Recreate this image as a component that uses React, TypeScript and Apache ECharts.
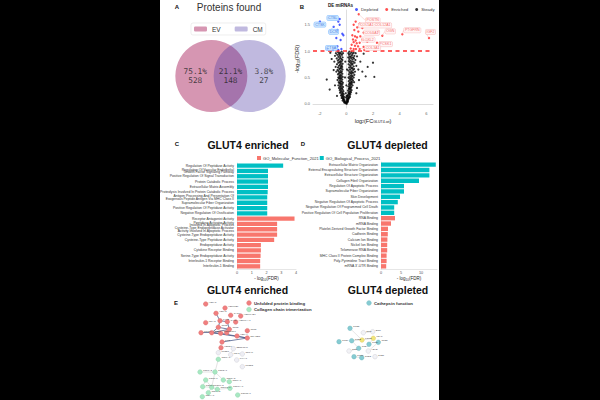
import React, { useEffect, useRef } from 'react';
import * as echarts from 'echarts';

// ---------- Panel A: Venn ----------
const vennSets = ['EV', 'CM'];
const vennCenterX = [-1, 1];
const vennRegionX = [-1.84, 0, 1.74];
const vennPct = ['75.1%', '21.1%', '3.8%'];
const vennCount = [528, 148, 27];

// ---------- Panel B: volcano (log2FC, -log10 FDR) ----------
const steadyPts: number[][] = [
  [-0.62,0.98],[-0.48,0.97],[-0.35,0.99],[-0.78,0.96],[-0.25,0.96],[-0.55,0.95],[-0.41,0.95],
  [-0.68,0.93],[-0.52,0.92],[-0.33,0.93],[-0.44,0.9],[-0.85,0.91],[-0.6,0.89],[-0.28,0.88],[-0.47,0.87],
  [-0.72,0.86],[-0.38,0.85],[-0.56,0.84],[-0.3,0.83],[-0.64,0.82],[-0.45,0.81],[-0.9,0.8],[-0.51,0.79],[-0.36,0.8],
  [-0.6,0.78],[-0.42,0.77],[-0.28,0.76],[-0.7,0.75],[-0.48,0.74],[-0.35,0.73],[-0.55,0.72],[-0.4,0.71],[-0.8,0.7],[-0.31,0.7],
  [-0.62,0.69],[-0.45,0.68],[-0.37,0.67],[-0.52,0.66],[-0.29,0.65],[-0.66,0.64],[-0.43,0.63],[-0.58,0.62],[-0.34,0.61],[-0.48,0.6],[-0.75,0.61],
  [-0.4,0.59],[-0.55,0.58],[-0.3,0.57],[-0.63,0.56],[-0.46,0.55],[-0.36,0.54],[-0.52,0.53],[-0.42,0.52],[-0.27,0.51],[-0.6,0.5],[-0.49,0.5],
  [-0.38,0.49],[-0.55,0.48],[-0.44,0.47],[-0.31,0.46],[-0.66,0.45],[-0.5,0.44],[-0.4,0.43],[-0.34,0.42],[-0.57,0.41],[-0.46,0.4],[-0.26,0.4],
  [-0.52,0.39],[-0.39,0.38],[-0.3,0.37],[-0.45,0.36],[-0.6,0.35],[-0.35,0.34],[-0.48,0.33],[-0.25,0.32],[-0.41,0.31],[-0.55,0.3],
  [-0.33,0.29],[-0.44,0.28],[-0.28,0.27],[-0.5,0.26],[-0.38,0.25],[-0.22,0.24],[-0.42,0.23],[-0.31,0.22],[-0.47,0.21],[-0.26,0.2],
  [-0.36,0.19],[-0.2,0.18],[-0.3,0.17],[-0.4,0.16],[-0.24,0.15],[-0.33,0.14],[-0.17,0.13],[-0.27,0.12],[-0.35,0.11],[-0.21,0.1],
  [-0.25,0.09],[-0.15,0.08],[-0.2,0.07],[-0.28,0.06],[-0.12,0.05],[-0.18,0.04],[-0.08,0.03],[-0.14,0.02],[-0.05,0.01],
  [0.22,0.99],[0.38,0.98],[0.55,0.97],[0.15,0.96],[0.47,0.95],[0.7,0.96],[0.3,0.95],
  [0.2,0.93],[0.42,0.92],[0.6,0.91],[0.33,0.9],[0.8,0.9],[0.25,0.89],[0.5,0.88],[0.14,0.88],
  [0.36,0.87],[0.57,0.86],[0.22,0.85],[0.45,0.84],[0.68,0.83],[0.3,0.82],[0.18,0.81],[0.52,0.8],[0.4,0.8],
  [0.25,0.79],[0.62,0.78],[0.35,0.77],[0.48,0.76],[0.17,0.75],[0.42,0.74],[0.28,0.73],[0.75,0.72],[0.55,0.71],[0.33,0.7],
  [0.21,0.69],[0.45,0.68],[0.38,0.67],[0.58,0.66],[0.27,0.65],[0.5,0.64],[0.15,0.63],[0.36,0.62],[0.65,0.61],[0.43,0.6],[0.24,0.6],
  [0.52,0.59],[0.31,0.58],[0.4,0.57],[0.19,0.56],[0.6,0.55],[0.35,0.54],[0.47,0.53],[0.26,0.52],[0.41,0.51],[0.16,0.5],[0.55,0.5],
  [0.33,0.49],[0.22,0.48],[0.45,0.47],[0.38,0.46],[0.28,0.45],[0.5,0.44],[0.18,0.43],[0.36,0.42],[0.42,0.41],[0.25,0.4],[0.58,0.41],
  [0.3,0.39],[0.4,0.38],[0.2,0.37],[0.34,0.36],[0.47,0.35],[0.26,0.34],[0.15,0.33],[0.38,0.32],[0.29,0.31],[0.22,0.3],
  [0.33,0.29],[0.18,0.28],[0.27,0.27],[0.4,0.26],[0.12,0.25],[0.3,0.24],[0.22,0.23],[0.35,0.22],[0.16,0.21],[0.26,0.2],
  [0.2,0.19],[0.3,0.18],[0.12,0.17],[0.24,0.16],[0.08,0.15],[0.18,0.14],[0.27,0.13],[0.1,0.12],[0.2,0.11],[0.14,0.1],
  [0.05,0.09],[0.15,0.08],[0.1,0.07],[0.02,0.06],[0.12,0.05],[0.06,0.04],[0.0,0.02],[0.09,0.03],[0.03,0.0],
  [-0.05,0.2],[0.0,0.35],[-0.1,0.5],[0.05,0.65],[-0.08,0.8],[0.02,0.15],[-0.02,0.12],
  [2.0,0.78],[2.1,0.51],[-1.47,0.46],[-1.25,0.27],[1.45,0.52],[1.2,0.61],[1.05,0.8],[-0.95,0.64],
  [-1.1,0.85],[0.95,0.45],[-0.85,0.35],[0.8,0.3],[1.3,0.95],[-1.2,0.97],[0.75,0.2],[-0.7,0.15],[1.6,0.7],[0.9,0.65]
];
const depletedPts: number[][] = [
  [-1.98,1.56],[-0.5,1.61],[-0.6,1.56],[-0.5,1.5],[-0.95,1.46],[-0.67,1.4],[-0.3,1.33],[-0.22,1.3],
  [-0.75,1.25],[-0.43,1.21],[-0.67,1.09],[-0.37,1.04],[-1.42,1.04],[-0.6,1.02],[-1.0,1.02]
];
const enrichedPts: number[][] = [
  [0.93,1.7],[0.7,1.56],[1.0,1.52],[0.55,1.5],[0.82,1.45],[1.2,1.44],[0.6,1.4],[0.9,1.37],[1.3,1.35],
  [0.45,1.3],[0.65,1.28],[0.8,1.26],[1.05,1.28],[0.5,1.22],[0.7,1.2],[1.2,1.22],[0.55,1.17],[0.78,1.15],
  [1.0,1.16],[1.57,1.18],[0.4,1.12],[0.65,1.1],[0.88,1.09],[1.3,1.08],[0.33,1.05],[0.55,1.04],[0.72,1.04],
  [1.0,1.04],[1.35,1.02],[2.3,1.16],[2.7,1.29],[1.95,1.35],[2.4,1.37],[4.2,1.32],[6.2,1.25]
];
const depLabelNames = ['CTSL', 'CTSK', 'DCN', 'CTSA'];
const depLabelPts: number[][] = [[-0.5,1.61],[-1.98,1.56],[-0.95,1.46],[-1.42,1.04]];
const depLabelShift: number[][] = [[-7,-1],[0,3],[0,5],[4,-1]];
const enrLabelNames = ['POSTN', 'COL5A1;COL12A1', 'COL1A1', 'OGN', 'PTGFRN', 'IGF2', 'LOXL2', 'PCSK1', 'COL3A1'];
const enrLabelPts: number[][] = [[0.93,1.7],[0.82,1.45],[1.3,1.35],[2.7,1.29],[4.2,1.32],[6.2,1.25],[1.57,1.18],[2.3,1.16],[1.0,1.04]];
const enrLabelShift: number[][] = [[14,6],[18,-2],[8,0],[8,-4.5],[10,-4],[1.5,-6],[1,-2],[8.5,1.5],[13,-1]];

// ---------- Panels C & D: enrichment bars ----------
const termsC = [
  'Regulation Of Peptidase Activity',
  'Regulation Of Vascular Endothelial\nGrowth Factor Signaling Pathway',
  'Positive Regulation Of Signal Transduction',
  'Protein Catabolic Process',
  'Extracellular Matrix Assembly',
  'Proteolysis Involved In Protein Catabolic Process',
  'Antigen Processing And Presentation Of\nExogenous Peptide Antigen Via MHC Class II',
  'Supramolecular Fiber Organization',
  'Positive Regulation Of Peptidase Activity',
  'Negative Regulation Of Ossification',
  'Receptor Antagonist Activity',
  'Peptidase Activator Activity\nInvolved In Apoptotic Process',
  'Cysteine-Type Endopeptidase Activator\nActivity Involved In Apoptotic Process',
  'Cysteine-Type Endopeptidase Activity',
  'Cysteine-Type Peptidase Activity',
  'Endopeptidase Activity',
  'Cytokine Receptor Binding',
  'Serine-Type Endopeptidase Activity',
  'Interleukin-1 Receptor Binding',
  'Interleukin-1 Binding'
];
const valuesC = [3.13, 2.1, 2.1, 2.1, 2.1, 2.08, 2.05, 2.05, 2.05, 2.05, 3.9, 2.72, 2.72, 2.72, 2.52, 1.62, 1.62, 1.6, 1.57, 1.57];
const groupC = ['BP','BP','BP','BP','BP','BP','BP','BP','BP','BP','MF','MF','MF','MF','MF','MF','MF','MF','MF','MF'];
const termsD = [
  'Extracellular Matrix Organization',
  'External Encapsulating Structure Organization',
  'Extracellular Structure Organization',
  'Collagen Fibril Organization',
  'Regulation Of Apoptotic Process',
  'Supramolecular Fiber Organization',
  'Skin Development',
  'Negative Regulation Of Apoptotic Process',
  'Negative Regulation Of Programmed Cell Death',
  'Positive Regulation Of Cell Population Proliferation',
  'RNA Binding',
  'mRNA Binding',
  'Platelet-Derived Growth Factor Binding',
  'Cadherin Binding',
  'Calcium Ion Binding',
  'Nickel Ion Binding',
  'Telomerase RNA Binding',
  'MHC Class II Protein Complex Binding',
  'Poly-Pyrimidine Tract Binding',
  "mRNA 3'-UTR Binding"
];
const valuesD = [13.7, 12.1, 12.1, 9.5, 5.75, 5.75, 4.75, 4.2, 3.3, 3.3, 3.5, 2.5, 1.75, 1.7, 1.6, 1.55, 1.55, 1.4, 1.4, 1.3];
const groupD = groupC;
const goNames = { MF: 'GO_Molecular_Function_2021', BP: 'GO_Biological_Process_2021' };
const ticksC = [0, 1, 2, 3, 4];
const ticksD = [0, 5, 10];

// ---------- Panel E: networks ----------
const enrRedNames = ['HSPA5','HSP90B1','HSPA8','CANX','HSP90AB1','PDIA3','P4HB','CALR','HSP90AA1','CCT2','CCT3','CCT5','CCT6A','CCT7','CCT8','TCP1','HSPA4','DNAJB11','PPIB','HSPD1'];
const enrRedXY: number[][] = [[10.7,6],[30,10],[21,15.3],[35.7,17.3],[45.7,18],[10.7,24.7],[25,22.7],[32.3,23.7],[40.7,24],[23.3,29.3],[34.3,31.3],[52.3,32.7],[6,34.7],[16.7,34.7],[25.7,35.3],[31.7,34.7],[42,38],[52.3,40],[27,44],[26,49.7]];
const enrGrayNames = ['SERPINH1','PLOD1','P3H1','CRTAP','P4HA1','PLOD2'];
const enrGrayXY: number[][] = [[38.3,50.7],[23.3,54.7],[35.7,56.7],[47.3,56],[41.7,62],[47.3,68.7]];
const enrGreenNames = ['COL1A1','COL1A2','COL3A1','COL5A1','COL5A2','COL6A1','COL6A2','COL6A3','COL12A1','COL14A1','COL15A1','COL4A1','COL4A2'];
const enrGreenXY: number[][] = [[23.3,61.3],[5,74],[20,74],[10.7,82],[28.3,82],[34.3,83.7],[7.7,88.7],[16.7,89.3],[22.3,91.3],[35,90.3],[42.7,97],[7.3,98.7],[13.3,94.7]];
const enrStrongLinks = [['HSPA8','P4HB'],['P4HB','CCT2'],['CCT2','CCT7'],['CCT7','DNAJB11'],['DNAJB11','PPIB'],['CCT2','CCT3'],['CALR','CCT3'],['CCT3','CCT7'],['CCT6A','CCT7'],['CCT7','CCT8'],['CCT8','DNAJB11'],['P4HB','CALR']];
const enrWeakLinks = [['PPIB','PLOD1'],['SERPINH1','P3H1'],['COL1A2','COL3A1'],['COL3A1','COL5A2'],['COL5A1','COL6A2'],['COL5A2','COL6A1'],['COL6A2','COL6A3'],['COL6A3','COL12A1'],['COL12A1','COL14A1'],['COL5A1','COL6A3'],['COL3A1','COL6A3'],['COL4A2','COL6A3'],['COL1A1','COL3A1']];
const depTealNames = ['CTSD','CTSK','CTSB','CTSL','CTSZ','CTSA','CTSC','CTSS'];
const depTealXY: number[][] = [[15,8.3],[4,21.7],[16.7,20.7],[34,24.3],[43.3,22.3],[23.7,28.3],[19,36.7],[26.7,37.7]];
const depYellowNames = ['LGMN','PSAP'];
const depYellowXY: number[][] = [[27,20],[38.3,18.3]];
const depWhiteNames = ['DCN','BGN','GRN','HEXB','GLB1'];
const depWhiteXY: number[][] = [[28.3,12.7],[37.7,11.7],[14,31],[33.3,31],[40,36.7]];
const depLinks = [['CTSB','LGMN'],['LGMN','PSAP'],['CTSL','PSAP'],['CTSA','CTSB'],['CTSA','GRN'],['CTSC','CTSS'],['CTSZ','HEXB'],['DCN','BGN'],['CTSD','LGMN']];

const RED = '#F8766D';
const TEAL = '#00BFC4';
const FONT = 'Liberation Sans';

function buildOption() {
  const hiddenAxis = (min: number, max: number, inverse = false) => ({
    type: 'value', min, max, inverse, show: false
  });
  const sub = { s: { fontSize: 3.6, padding: [3, 0, 0, 0], fontFamily: FONT, color: '#222' } };

  const nodes = (names: string[], xy: number[][], color: string, border: string) =>
    names.map((n, i) => ({ name: n, value: xy[i], itemStyle: { color, borderColor: border, borderWidth: 0.4 } }));

  const labelSeries = (names: string[], pts: number[][], shift: number[][], color: string, bg: string, bd: string) => ({
    type: 'scatter', name: 'lbl', xAxisIndex: 1, yAxisIndex: 1, symbolSize: 0, z: 5,
    data: names.map((n, i) => ({ name: n, value: pts[i] })),
    label: {
      show: true, position: 'inside', formatter: '{b}', fontSize: 3.6, color,
      backgroundColor: bg, borderColor: bd, borderWidth: 0.4, borderRadius: 1, padding: [0.6, 1, 0.3, 1]
    },
    labelLine: { show: true, lineStyle: { color: bd, width: 0.4 } },
    labelLayout: (p: any) => ({ dx: shift[p.dataIndex][0], dy: shift[p.dataIndex][1], hideOverlap: false })
  });

  const bar = (gi: number, vals: number[], groups: string[], key: 'MF' | 'BP', color: string) => ({
    type: 'bar', name: goNames[key], xAxisIndex: gi, yAxisIndex: gi,
    data: vals.map((v, i) => (groups[i] === key ? v : '-')),
    itemStyle: { color }, barWidth: '82%', barGap: '-100%'
  });

  const gtext = (text: string, x: number, y: number, size: number, weight = 'normal', align = 'center', color = '#111') => ({
    type: 'text', x, y, z: 10,
    style: { text, fontSize: size, fontWeight: weight, fontFamily: FONT, fill: color, align, verticalAlign: 'middle' }
  });

  const catLabel = { interval: 0, fontSize: 3.4, lineHeight: 2.7, color: '#333', margin: 3 };
  const netLabel = { show: true, position: 'right', distance: 0.6, offset: [0, -1.6], fontSize: 2.3, color: '#444' };

  return {
    animation: false,
    backgroundColor: '#000',
    textStyle: { fontFamily: FONT },
    graphic: [
      { type: 'rect', shape: { x: 160, y: 0, width: 279, height: 400 }, style: { fill: '#fff' }, z: -10 },
      gtext('A', 177, 7, 6, 'bold'),
      gtext('Proteins found', 229, 7.5, 10, 'normal', 'center', '#333'),
      gtext('B', 302, 7, 6, 'bold'),
      gtext('DE miRNAs', 328, 5, 4.5, 'bold', 'left'),
      gtext('C', 177, 144, 6, 'bold'),
      gtext('GLUT4 enriched', 248, 145, 10.5, 'bold'),
      gtext('D', 303, 144, 6, 'bold'),
      gtext('GLUT4 depleted', 387.5, 145, 10.5, 'bold'),
      gtext('E', 176, 303, 6, 'bold'),
      gtext('GLUT4 enriched', 247.5, 289.5, 10.5, 'bold'),
      gtext('GLUT4 depleted', 388, 289.5, 10.5, 'bold'),
      { type: 'circle', shape: { cx: 249, cy: 303, r: 2.4 }, style: { fill: '#f07f7f', stroke: '#d86a6a', lineWidth: 0.3 } },
      gtext('Unfolded protein binding', 254, 303, 4.3, 'bold', 'left', '#333'),
      { type: 'circle', shape: { cx: 249, cy: 309.5, r: 2.4 }, style: { fill: '#a8e8c2', stroke: '#8cd0a8', lineWidth: 0.3 } },
      gtext('Collagen chain trimerization', 254, 309.5, 4.3, 'bold', 'left', '#333'),
      { type: 'circle', shape: { cx: 369, cy: 303, r: 2.4 }, style: { fill: '#86cbd2', stroke: '#6ab4bc', lineWidth: 0.3 } },
      gtext('Cathepsin function', 374, 303, 4.3, 'bold', 'left', '#333')
    ],
    legend: [
      {
        data: vennSets, left: 191, top: 23, padding: [2.5, 3], itemGap: 14, itemWidth: 13, itemHeight: 5,
        icon: 'roundRect', borderColor: '#e2e2e2', borderWidth: 0.6, borderRadius: 2,
        textStyle: { fontSize: 6.5, color: '#333', fontFamily: FONT }
      },
      {
        data: ['Depleted', 'Enriched', 'Steady'], left: 350, top: 2.5, itemGap: 7, itemWidth: 3, itemHeight: 3,
        icon: 'circle', textStyle: { fontSize: 4.3, color: '#333', padding: [0, 0, 0, -2] }
      },
      {
        data: [goNames.MF, goNames.BP], left: 252, top: 151, itemGap: 1, itemWidth: 4, itemHeight: 4,
        icon: 'rect', textStyle: { fontSize: 4.1, color: '#333', padding: [0, 0, 0, -3] }
      }
    ],
    grid: [
      { left: 173, top: 40, width: 115, height: 72 },
      { left: 313, top: 10, width: 120, height: 98 },
      { left: 237, top: 163, width: 59, height: 106 },
      { left: 381, top: 162, width: 56, height: 107 },
      { left: 195, top: 298, width: 60, height: 100 },
      { left: 335, top: 320, width: 50, height: 45 }
    ],
    xAxis: [
      { gridIndex: 0, ...hiddenAxis(-3, 3) },
      {
        gridIndex: 1, type: 'value', min: -2.5, max: 6.5,
        axisLine: { lineStyle: { color: '#c8c8c8', width: 0.6 } }, axisTick: { show: false }, splitLine: { show: false },
        axisLabel: { customValues: [-2, 0, 2, 4, 6], fontSize: 4, color: '#666', margin: 3 },
        name: 'log{s|2}(FC{s|GLUT4-wt})', nameLocation: 'middle', nameGap: 9,
        nameTextStyle: { fontSize: 5.5, color: '#222', rich: sub }
      },
      {
        gridIndex: 2, type: 'value', min: 0, max: 4, interval: 1,
        axisLine: { show: true, lineStyle: { color: '#ccc', width: 0.5 } }, axisTick: { show: false }, splitLine: { show: false },
        axisLabel: { customValues: ticksC, fontSize: 3.8, color: '#555', margin: 2 },
        name: '- log{s|10}(FDR)', nameLocation: 'middle', nameGap: 6,
        nameTextStyle: { fontSize: 4.5, color: '#222', rich: { s: { fontSize: 3, padding: [2, 0, 0, 0], color: '#222' } } }
      },
      {
        gridIndex: 3, type: 'value', min: 0, max: 14,
        axisLine: { show: true, lineStyle: { color: '#ccc', width: 0.5 } }, axisTick: { show: false }, splitLine: { show: false },
        axisLabel: { customValues: ticksD, fontSize: 3.8, color: '#555', margin: 2 },
        name: '- log{s|10}(FDR)', nameLocation: 'middle', nameGap: 6,
        nameTextStyle: { fontSize: 4.5, color: '#222', rich: { s: { fontSize: 3, padding: [2, 0, 0, 0], color: '#222' } } }
      },
      { gridIndex: 4, ...hiddenAxis(0, 60) },
      { gridIndex: 5, ...hiddenAxis(0, 50) }
    ],
    yAxis: [
      { gridIndex: 0, ...hiddenAxis(-1, 1) },
      {
        gridIndex: 1, type: 'value', min: -0.08, max: 1.78,
        axisLine: { show: true, lineStyle: { color: '#c8c8c8', width: 0.6 } }, axisTick: { show: false }, splitLine: { show: false },
        axisLabel: { customValues: [0, 0.5, 1, 1.5], formatter: (v: number) => v.toFixed(1), fontSize: 4, color: '#666', margin: 3 },
        name: '-log{s|10}(FDR)', nameLocation: 'middle', nameGap: 9, nameRotate: 90,
        nameTextStyle: { fontSize: 5.5, color: '#222', rich: sub }
      },
      {
        gridIndex: 2, type: 'category', data: termsC, inverse: true,
        axisLine: { show: true, lineStyle: { color: '#ccc', width: 0.5 } }, axisTick: { show: false },
        axisLabel: catLabel
      },
      {
        gridIndex: 3, type: 'category', data: termsD, inverse: true,
        axisLine: { show: true, lineStyle: { color: '#ccc', width: 0.5 } }, axisTick: { show: false },
        axisLabel: catLabel
      },
      { gridIndex: 4, ...hiddenAxis(0, 100, true) },
      { gridIndex: 5, ...hiddenAxis(0, 45, true) }
    ],
    series: [
      // Venn
      {
        type: 'scatter', name: vennSets[0], xAxisIndex: 0, yAxisIndex: 0, symbolSize: 72,
        data: [[vennCenterX[0], 0]], itemStyle: { color: 'rgb(214,150,178)', opacity: 1 }
      },
      {
        type: 'scatter', name: vennSets[1], xAxisIndex: 0, yAxisIndex: 0, symbolSize: 72,
        data: [[vennCenterX[1], 0]], itemStyle: { color: 'rgba(70,50,160,0.34)', opacity: 1 }
      },
      {
        type: 'scatter', name: 'venn-text', xAxisIndex: 0, yAxisIndex: 0, symbolSize: 0, z: 5,
        data: vennRegionX.map((x, i) => ({ value: [x, 0], name: vennPct[i] + '\n' + vennCount[i] })),
        label: { show: true, position: 'inside', formatter: '{b}', fontSize: 7.8, lineHeight: 9, color: '#222', fontFamily: 'DejaVu Sans Mono' }
      },
      // Volcano
      {
        type: 'scatter', name: 'Steady', xAxisIndex: 1, yAxisIndex: 1, symbolSize: 2.2,
        itemStyle: { color: '#000' }, data: steadyPts
      },
      {
        type: 'scatter', name: 'Depleted', xAxisIndex: 1, yAxisIndex: 1, symbolSize: 2.4,
        itemStyle: { color: '#1f35ff' }, data: depletedPts
      },
      {
        type: 'scatter', name: 'Enriched', xAxisIndex: 1, yAxisIndex: 1, symbolSize: 2.4,
        itemStyle: { color: '#ff2424' }, data: enrichedPts,
        markLine: {
          silent: true, symbol: 'none', label: { show: false },
          lineStyle: { color: '#ff2a2a', width: 1.7, type: [4, 3.5] },
          data: [{ yAxis: 1 }]
        }
      },
      labelSeries(depLabelNames, depLabelPts, depLabelShift, '#1a5fd6', '#bfe0ff', '#5ea8ff'),
      labelSeries(enrLabelNames, enrLabelPts, enrLabelShift, '#f04848', '#fff2f2', '#f6a8a8'),
      // Bars
      bar(2, valuesC, groupC, 'MF', RED),
      bar(2, valuesC, groupC, 'BP', TEAL),
      bar(3, valuesD, groupD, 'MF', RED),
      bar(3, valuesD, groupD, 'BP', TEAL),
      // Networks
      {
        type: 'graph', name: 'net-enriched', coordinateSystem: 'cartesian2d', xAxisIndex: 4, yAxisIndex: 4,
        symbolSize: 4.6, roam: false,
        data: [
          ...nodes(enrRedNames, enrRedXY, '#f07f7f', '#d86a6a'),
          ...nodes(enrGrayNames, enrGrayXY, '#eeeef4', '#c8c8d0'),
          ...nodes(enrGreenNames, enrGreenXY, '#a8e8c2', '#8cd0a8')
        ],
        links: [
          ...enrStrongLinks.map(([s, t]) => ({ source: s, target: t, lineStyle: { color: '#3c4c7c', width: 0.7, opacity: 1 } })),
          ...enrWeakLinks.map(([s, t]) => ({ source: s, target: t, lineStyle: { color: '#b8b8b8', width: 0.4, opacity: 1 } }))
        ],
        label: netLabel
      },
      {
        type: 'graph', name: 'net-depleted', coordinateSystem: 'cartesian2d', xAxisIndex: 5, yAxisIndex: 5,
        symbolSize: 4.6, roam: false,
        data: [
          ...nodes(depTealNames, depTealXY, '#86cbd2', '#6ab4bc'),
          ...nodes(depYellowNames, depYellowXY, '#f2e47a', '#d8c85e'),
          ...nodes(depWhiteNames, depWhiteXY, '#f2f2f6', '#c8c8d0')
        ],
        links: depLinks.map(([s, t]) => ({ source: s, target: t, lineStyle: { color: '#c0c0c0', width: 0.4, opacity: 1 } })),
        label: netLabel
      }
    ]
  };
}

export default function App() {
  const ref = useRef<HTMLDivElement>(null);
  useEffect(() => {
    if (!ref.current) return;
    const chart = echarts.init(ref.current, null, { renderer: 'svg' });
    chart.setOption(buildOption() as any);
    return () => chart.dispose();
  }, []);
  return (
    <div
      ref={ref}
      style={{ position: 'fixed', left: 0, top: 0, width: 600, height: 400, background: '#000' }}
    />
  );
}
